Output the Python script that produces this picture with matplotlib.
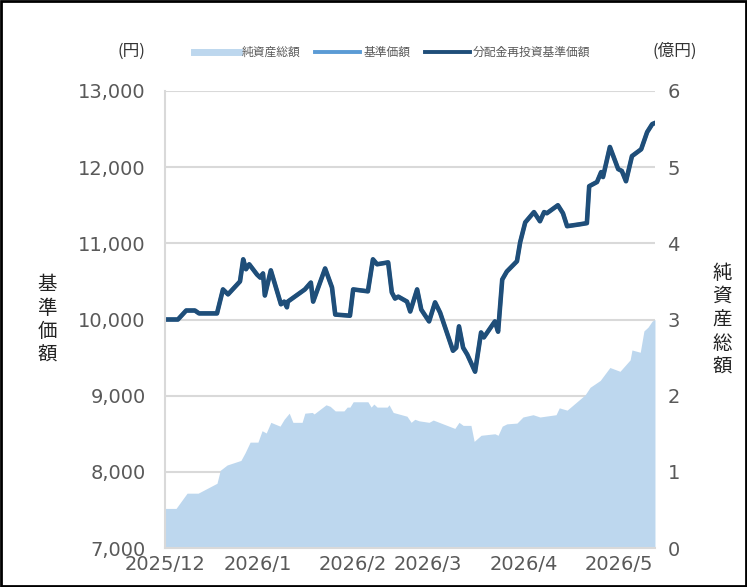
import numpy as np
import matplotlib
matplotlib.use("Agg")
import matplotlib.pyplot as plt
from matplotlib.lines import Line2D
from matplotlib.patches import Rectangle
from matplotlib.ticker import FuncFormatter

plt.rcParams['font.family'] = ['Noto Sans CJK JP', 'DejaVu Sans']

# trading-day index of each line vertex, and the value there (円)
nav_days = [0, 2.8, 4.6, 6.5, 7.4, 11.3, 12.6, 13.7, 16.3, 17.0, 17.6, 18.3,
            20.0, 20.7, 21.3, 21.7, 23.0, 25.2, 25.9, 26.5, 26.7, 30.4, 31.7,
            32.2, 34.8, 36.3, 37.0, 40.2, 40.9, 44.1, 45.2, 46.1, 48.5, 49.3,
            50.0, 50.7, 52.6, 53.3, 54.8, 55.7, 57.4, 58.7, 59.8, 62.6, 63.3,
            63.9, 64.8, 65.7, 67.4, 68.7, 69.3, 71.7, 72.4, 73.3, 74.3, 76.5,
            77.2, 78.3, 80.2, 81.5, 82.4, 83.0, 85.4, 86.5, 87.4, 90.2, 91.7,
            92.2, 93.9, 94.8, 95.2, 96.7, 98.5, 99.3, 100.2, 101.5, 103.5,
            104.8, 105.9, 106.5]
nav_reinvest = [10000, 10000, 10118, 10118, 10080, 10080, 10395, 10330, 10500,
                10790, 10660, 10725, 10590, 10550, 10605, 10315, 10645, 10200,
                10235, 10160, 10235, 10395, 10485, 10235, 10670, 10420, 10065,
                10050, 10395, 10370, 10790, 10725, 10750, 10355, 10275, 10300,
                10235, 10105, 10395, 10130, 9975, 10225, 10090, 9590, 9630,
                9910, 9630, 9540, 9315, 9830, 9765, 9975, 9840, 10525, 10630,
                10765, 11015, 11275, 11410, 11290, 11410, 11395, 11500, 11395,
                11225, 11250, 11265, 11750, 11805, 11935, 11870, 12265, 11975,
                11950, 11815, 12145, 12235, 12460, 12565, 12580]
# no distributions so far: base price equals the reinvested price
nav_base = list(nav_reinvest)

# net assets (億円)
asset_days = [0, 2.4, 4.8, 7.2, 11.3, 12.0, 13.5, 16.5, 17.4, 18.5, 20.2, 21.1,
              22.0, 23.0, 25.0, 25.9, 27.0, 27.8, 29.8, 30.4, 32.0, 32.4, 35.0,
              35.9, 37.0, 38.9, 39.6, 40.2, 40.9, 44.1, 44.8, 45.4, 46.1, 48.3,
              48.7, 49.6, 52.6, 53.5, 54.3, 55.2, 57.4, 58.3, 63.0, 63.9, 64.8,
              66.5, 67.2, 68.7, 71.7, 72.4, 73.3, 74.3, 76.5, 77.8, 80.0, 81.5,
              85.0, 85.7, 87.4, 91.3, 92.4, 94.6, 96.7, 98.9, 101.1, 101.5,
              103.3, 104.1, 105.0, 105.9, 106.5]
net_assets = [0.52, 0.52, 0.72, 0.72, 0.85, 1.02, 1.09, 1.15, 1.25, 1.39, 1.39,
              1.54, 1.51, 1.65, 1.60, 1.69, 1.77, 1.65, 1.65, 1.77, 1.78, 1.76,
              1.88, 1.86, 1.80, 1.80, 1.85, 1.85, 1.92, 1.92, 1.85, 1.89, 1.85,
              1.85, 1.88, 1.78, 1.73, 1.65, 1.69, 1.67, 1.65, 1.68, 1.57, 1.65,
              1.61, 1.61, 1.40, 1.48, 1.50, 1.48, 1.60, 1.63, 1.64, 1.72, 1.75,
              1.72, 1.75, 1.84, 1.81, 2.01, 2.11, 2.20, 2.37, 2.32, 2.47, 2.60,
              2.57, 2.85, 2.90, 2.98, 3.00]

month_days = [0, 20.2, 40.8, 57.1, 78.0, 98.7]
month_labels = ['2025/12', '2026/1', '2026/2', '2026/3', '2026/4', '2026/5']

c_area = '#bdd7ee'
c_base = '#5b9bd5'
c_reinv = '#1f4e79'
c_text = '#595959'
c_grid = '#d9d9d9'

fig = plt.figure(figsize=(7.47, 5.87), dpi=100)
ax = fig.add_axes([0.2209, 0.0664, 0.6559, 0.7786])
ax2 = ax.twinx()
ax.set_zorder(2)
ax.patch.set_visible(False)

ax2.fill_between(asset_days, net_assets, 0, color=c_area, lw=0, zorder=2)
ax2.set_ylim(0, 6)
ax2.set_yticks(range(0, 7))
ax2.yaxis.grid(True, color=c_grid, lw=1.5)
ax2.set_axisbelow(True)

ax.plot(nav_days, nav_base, color=c_base, lw=2.8, solid_joinstyle='round')
ax.plot(nav_days, nav_reinvest, color=c_reinv, lw=3.3, solid_joinstyle='round')
ax.set_ylim(7000, 13000)
ax.set_yticks(range(7000, 13001, 1000))
ax.yaxis.set_major_formatter(FuncFormatter(lambda v, p: f'{int(v):,}'))
ax.set_xlim(0, 106.5)
ax.set_xticks(month_days)
ax.set_xticklabels(month_labels)

for a in (ax, ax2):
    a.tick_params(length=0, labelsize=14, labelcolor=c_text)
    for lab in a.get_xticklabels() + a.get_yticklabels():
        lab.set_family('DejaVu Sans')
    for s in a.spines.values():
        s.set_visible(False)
ax.tick_params(axis='y', pad=14)
ax.tick_params(axis='x', pad=5)
ax2.tick_params(axis='y', pad=9)
ax.spines['left'].set_visible(True)
ax.spines['left'].set_color(c_grid)
ax.spines['left'].set_linewidth(1.5)
ax.spines['bottom'].set_visible(True)
ax.spines['bottom'].set_color(c_grid)
ax.spines['bottom'].set_linewidth(1.5)

# units and axis titles
fig.text(0.176, 0.912, '(円)', fontsize=12, color='#333333', ha='center', va='center')
fig.text(0.903, 0.912, '(億円)', fontsize=12, color='#333333', ha='center', va='center')
fig.text(0.063, 0.455, '\n'.join('基準価額'), fontsize=14, color='#222222',
         ha='center', va='center', linespacing=1.15)
fig.text(0.967, 0.455, '\n'.join('純資産総額'), fontsize=14, color='#222222',
         ha='center', va='center', linespacing=1.15)

handles = [Line2D([], [], color=c_area, lw=5),
           Line2D([], [], color=c_base, lw=2.8),
           Line2D([], [], color=c_reinv, lw=2.8)]
fig.legend(handles, ['純資産総額', '基準価額', '分配金再投資基準価額'],
           loc='center', bbox_to_anchor=(0.525, 0.911), ncol=3, frameon=False,
           fontsize=8.5, handlelength=3.8, handletextpad=0.3, columnspacing=1.2,
           labelcolor=c_text)

fig.patches.append(Rectangle((0.002, 0.002), 0.996, 0.996, transform=fig.transFigure,
                             fill=False, edgecolor='black', lw=2))

fig.savefig('out.png', dpi=100)
